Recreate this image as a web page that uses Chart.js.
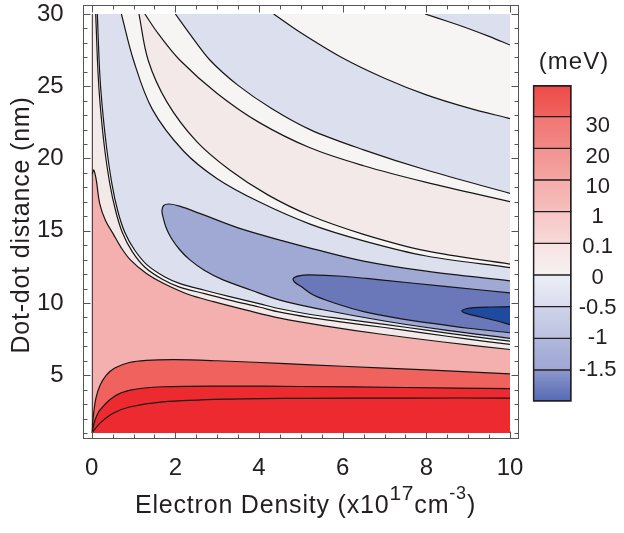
<!DOCTYPE html>
<html>
<head>
<meta charset="utf-8">
<script src="https://cdn.jsdelivr.net/npm/chart.js@4.4.0/dist/chart.umd.min.js"></script>
<style>
  html, body { margin: 0; padding: 0; background: #fff; }
  #wrap { position: relative; width: 624px; height: 533px; }
  #main { position: absolute; left: 0; top: 0; }
  #bar { position: absolute; left: 520px; top: 0; }
</style>
</head>
<body>
<div id="wrap">
  <canvas id="main" width="624" height="533"></canvas>
  <canvas id="bar" width="104" height="533"></canvas>
</div>
<script>
const FONT = "'Liberation Sans', Arial, Helvetica, sans-serif";
const INK = "#231f20";

// axes
const xTicks = [0, 2, 4, 6, 8, 10];
const yTicks = [5, 10, 15, 20, 25, 30];
const xMinor = [0, 0.5, 1, 1.5, 2, 2.5, 3, 3.5, 4, 4.5, 5, 5.5, 6, 6.5, 7, 7.5, 8, 8.5, 9, 9.5, 10];
const yMinor = [1, 2, 3, 4, 5, 6, 7, 8, 9, 10, 11, 12, 13, 14, 15, 16, 17, 18, 19, 20,
                21, 22, 23, 24, 25, 26, 27, 28, 29, 30];
const frameX = [-0.2, 10.19];
const frameY = [0.65, 30.62];

// contour lines [density, distance]
const r3 = [[0, 1.0], [0.2, 1.68], [0.5, 2.35], [0.9, 2.8], [1.7, 3.15], [3.3, 3.35], [5, 3.4], [7.5, 3.42], [10, 3.42]];
const r2 = [[0, 1.0], [0.08, 1.9], [0.2, 2.6], [0.52, 3.5], [0.92, 3.97], [1.7, 4.2], [3.3, 4.25], [5, 4.22], [7.5, 4.15], [10, 4.07]];
const r1 = [[0, 1.0], [0.04, 2.2], [0.1, 3.4], [0.2, 4.3], [0.35, 5.0], [0.55, 5.5], [0.9, 5.88], [1.3, 6.03], [2, 6.08],
            [3, 6.0], [4.5, 5.82], [6, 5.62], [8, 5.37], [10, 5.09]];
const pLine = [[0.01, 18.9], [0.05, 19.2], [0.11, 18.5], [0.19, 16.9], [0.33, 15.7], [0.52, 14.75], [0.7, 13.85], [0.92, 13.0],
               [1.3, 12.05], [1.71, 11.36], [2.3, 10.6], [2.91, 10.09], [3.7, 9.5], [4.5, 8.95], [5.6, 8.4], [6.89, 7.85],
               [8.4, 7.3], [10, 6.78]];
const q1 = [[0.096, 30], [0.15, 26], [0.2, 23.8], [0.3, 20.9], [0.43, 18.3], [0.57, 16.4], [0.73, 14.9], [0.97, 13.55],
            [1.28, 12.45], [1.7, 11.62], [2.1, 11.1], [2.7, 10.65], [3.3, 10.2], [4.0, 9.72], [4.5, 9.36], [5.2, 9.0],
            [6, 8.68], [7, 8.3], [8, 7.9], [9, 7.5], [10, 7.13]];
const q2 = [[0.134, 30], [0.19, 26], [0.245, 23.8], [0.35, 20.9], [0.48, 18.3], [0.62, 16.4], [0.79, 14.9], [1.03, 13.65],
            [1.33, 12.62], [1.74, 11.82], [2.13, 11.32], [2.7, 10.88], [3.3, 10.44], [4.0, 9.95], [4.5, 9.6], [5.2, 9.22],
            [6, 8.9], [7, 8.52], [8, 8.12], [9, 7.72], [10, 7.36]];
const m1 = [[10, 11.53], [8, 12.2], [6.5, 12.9], [5.22, 13.8], [4.57, 14.3], [3.5, 15.2], [2.58, 16.2], [2.1, 16.7],
            [1.85, 16.85], [1.72, 16.75], [1.68, 16.4], [1.7, 16.0], [1.78, 15.2], [1.9, 14.5], [2.1, 13.7], [2.34, 13.0],
            [2.7, 12.25], [3.14, 11.6], [3.8, 10.9], [4.5, 10.2], [5.5, 9.55], [7, 8.75], [8.5, 8.1], [10, 7.55]];
const m2 = [[10, 10.7], [8.5, 11.13], [6.9, 11.6], [6, 11.85], [5.2, 11.95], [4.95, 11.88], [4.82, 11.7], [4.85, 11.45],
            [5.0, 11.15], [5.3, 10.55], [5.8, 10.0], [6.5, 9.4], [7.3, 8.95], [8.1, 8.6], [9, 8.25], [10, 7.94]];
const k = [[10, 9.74], [9.5, 9.72], [9.15, 9.68], [8.95, 9.6], [8.85, 9.45], [8.95, 9.28], [9.3, 9.03], [9.7, 8.75], [10, 8.5]];
const f = [[0.71, 30], [1.0, 26.8], [1.45, 23.4], [2.2, 20.5], [3.0, 18.6], [4.0, 17.0], [5.22, 15.46], [6.5, 14.3],
           [8, 13.25], [10, 12.45]];
const e = [[1.13, 30], [1.35, 26.8], [1.8, 23.9], [2.5, 21.2], [3.3, 19.2], [4.2, 17.5], [5.22, 16.05], [6.5, 14.75],
           [8, 13.6], [10, 12.69]];
const dc = [[1.27, 30], [1.6, 28.6], [2.11, 26.8], [3, 24.5], [4, 22.5], [5.22, 20.74], [6.5, 19.5], [8, 18.35], [10, 17.01]];
const c = [[2.0, 30], [2.4, 28.4], [2.83, 26.8], [3.5, 25.06], [4.3, 23.46], [5.22, 22.0], [6.5, 20.6], [8, 19.2], [10, 17.59]];
const b = [[4.35, 30], [5, 28.7], [6, 26.95], [7, 25.55], [8, 24.4], [9, 23.5], [10, 22.76]];
const a = [[7.97, 30], [8.5, 29.5], [9, 29.0], [9.5, 28.45], [10, 27.85]];
const edge = [[0.01, 30], [0.01, 1]];

// level colours in the map
const C = {
  gt30: "#ed2a2f", c20_30: "#ed2a2f", c10_20: "#f0625e", c1_10: "#f4b0ae", c01_1: "#f3e9e8",
  c0_01: "#f7f4f4", m05_0: "#dcdfee", m1_m05: "#a0a8d4", m15_m1: "#6a77b9", lt_m15: "#1f4a9f"
};

// colour bar
const cbLabels = ["-1.5", "-1", "-0.5", "0", "0.1", "1", "10", "20", "30"];
const cbTickPos = [1.0, 2.0, 2.95, 3.9, 4.88, 5.84, 6.79, 7.74, 8.71];
const cbTop = ["#8d98cc", "#b1b8dc", "#cfd4ea", "#eceef6", "#f8e2e2", "#f6c6c5", "#f4adab", "#f29390", "#f07673", "#ee4a48"];
const cbBottom = ["#5469b4", "#9ea6d3", "#bcc2e0", "#d9dcee", "#f6f1f1", "#f8d9d8", "#f6bfbd", "#f4a5a3", "#f28986", "#f0635f"];

// paint order: lowest level first
const layers = [
  [r3, "start", C.gt30, false],
  [r3, "end", C.c20_30, true],
  [r2, "end", C.c10_20, true],
  [r1, "end", C.c1_10, true],
  [pLine, "end", C.c01_1, true],
  [q1, "end", C.c0_01, true],
  [q2, "end", C.m05_0, true],
  [m1, "shape", C.m1_m05, true],
  [m2, "shape", C.m15_m1, true],
  [k, "shape", C.lt_m15, true],
  [f, "end", C.c0_01, true],
  [e, "end", C.c01_1, true],
  [dc, "end", C.c0_01, true],
  [c, "end", C.m05_0, true],
  [b, "end", C.c0_01, true],
  [a, "end", C.m05_0, true],
  [edge, false, "rgba(0,0,0,0)", true]
];

const datasets = layers.map((L, i) => ({
  data: L[0].map(p => ({ x: p[0], y: p[1] })),
  fill: L[1],
  backgroundColor: L[2],
  borderColor: L[3] ? "#161616" : "rgba(0,0,0,0)",
  borderWidth: 1.2,
  showLine: true,
  pointRadius: 0,
  pointHoverRadius: 0,
  tension: L[0] === edge ? 0 : 0.35,
  order: layers.length - i
}));

function drawParts(ctx, parts, cx) {
  let total = 0;
  parts.forEach(p => { ctx.font = p.size + "px " + FONT; p.w = ctx.measureText(p.t).width; total += p.w; });
  let x = cx - total / 2;
  parts.forEach(p => {
    ctx.font = p.size + "px " + FONT;
    ctx.fillText(p.t, x, p.base);
    x += p.w;
  });
}

const framePlugin = {
  id: "frame",
  afterDraw(chart) {
    const { ctx, scales: { x, y } } = chart;
    const l = Math.round(x.getPixelForValue(frameX[0])) + 0.5;
    const r = Math.round(x.getPixelForValue(frameX[1])) + 0.5;
    const t = Math.round(y.getPixelForValue(frameY[1])) + 0.5;
    const bt = Math.round(y.getPixelForValue(frameY[0])) + 0.5;
    ctx.save();
    ctx.strokeStyle = "#555";
    ctx.lineWidth = 1;
    ctx.strokeRect(l, t, r - l, bt - t);
    ctx.beginPath();
    xMinor.forEach(v => {
      const px = Math.round(x.getPixelForValue(v)) + 0.5;
      const len = xTicks.includes(v) ? 7 : 4;
      ctx.moveTo(px, bt); ctx.lineTo(px, bt - len);
      ctx.moveTo(px, t); ctx.lineTo(px, t + len);
    });
    yMinor.forEach(v => {
      const py = Math.round(y.getPixelForValue(v)) + 0.5;
      const len = yTicks.includes(v) ? 7 : 4;
      ctx.moveTo(l, py); ctx.lineTo(l + len, py);
      ctx.moveTo(r, py); ctx.lineTo(r - len, py);
    });
    ctx.stroke();

    ctx.fillStyle = INK;
    ctx.letterSpacing = "0.8px";
    ctx.textAlign = "left";
    ctx.textBaseline = "alphabetic";
    drawParts(ctx, [
      { t: "Electron Density (x10", size: 25, base: 513 },
      { t: "17", size: 21, base: 500 },
      { t: "cm", size: 25, base: 513 },
      { t: "-3", size: 18, base: 499 },
      { t: ")", size: 25, base: 513 }
    ], 305.5);

    ctx.translate(28.5, 225);
    ctx.rotate(-Math.PI / 2);
    ctx.textAlign = "center";
    ctx.font = "25px " + FONT;
    ctx.fillText("Dot-dot distance (nm)", 0, 0);
    ctx.restore();
  }
};

new Chart(document.getElementById("main"), {
  type: "scatter",
  data: { datasets },
  options: {
    responsive: false,
    animation: false,
    devicePixelRatio: 1,
    events: [],
    layout: { padding: { top: 14, right: 114, left: 0, bottom: 0 } },
    plugins: { legend: { display: false }, tooltip: { enabled: false } },
    scales: {
      x: {
        type: "linear", min: 0, max: 10,
        grid: { display: false, drawTicks: false },
        border: { display: false },
        afterFit: s => { s.height = 100; s.paddingLeft = 0; s.paddingRight = 0; },
        afterBuildTicks: s => { s.ticks = xTicks.map(v => ({ value: v })); },
        ticks: { padding: 21, color: INK, font: { family: FONT, size: 24 }, maxRotation: 0, autoSkip: false }
      },
      y: {
        type: "linear", min: 1, max: 30,
        grid: { display: false, drawTicks: false },
        border: { display: false },
        afterFit: s => { s.width = 91.7; s.paddingTop = 0; s.paddingBottom = 0; },
        afterBuildTicks: s => { s.ticks = yTicks.map(v => ({ value: v })); },
        ticks: { padding: 28, color: INK, font: { family: FONT, size: 24 }, autoSkip: false }
      }
    }
  },
  plugins: [framePlugin]
});

// colour bar
const cbTitle = {
  id: "cbTitle",
  afterDraw(chart) {
    const ctx = chart.ctx;
    ctx.save();
    ctx.fillStyle = INK;
    ctx.letterSpacing = "1px";
    ctx.font = "24px " + FONT;
    ctx.textAlign = "center";
    ctx.textBaseline = "middle";
    ctx.fillText("(meV)", 54, 62);
    ctx.restore();
  }
};

function binFill(ctx) {
  const ch = ctx.chart;
  const i = ctx.datasetIndex;
  const ys = ch.scales.y;
  if (!ch.chartArea || !ys) return cbTop[i];
  const g = ch.ctx.createLinearGradient(0, ys.getPixelForValue(i + 1), 0, ys.getPixelForValue(i));
  g.addColorStop(0, cbTop[i]);
  g.addColorStop(1, cbBottom[i]);
  return g;
}

new Chart(document.getElementById("bar"), {
  type: "bar",
  data: {
    labels: [""],
    datasets: cbTop.map((col, i) => ({
      data: [1],
      backgroundColor: binFill,
      borderColor: INK,
      borderWidth: { left: 2, right: 2, top: i === cbTop.length - 1 ? 2 : 1, bottom: i === 0 ? 2 : 1 },
      borderSkipped: false,
      barPercentage: 1,
      categoryPercentage: 1,
      stack: "cb"
    }))
  },
  options: {
    responsive: false,
    animation: false,
    devicePixelRatio: 1,
    events: [],
    layout: { padding: { left: 12.7, top: 85, bottom: 131.3, right: 0 } },
    plugins: { legend: { display: false }, tooltip: { enabled: false } },
    scales: {
      x: { stacked: true, display: false },
      y: {
        stacked: true, position: "right", min: 0, max: 10,
        grid: { display: false, drawTicks: false },
        border: { display: false },
        afterFit: s => { s.width = 52.3; s.paddingTop = 0; s.paddingBottom = 0; },
        afterBuildTicks: s => { s.ticks = cbTickPos.map(v => ({ value: v })); },
        ticks: {
          autoSkip: false, padding: 7, crossAlign: "center", color: INK,
          font: { family: FONT, size: 22 },
          callback: (v, i) => cbLabels[i]
        }
      }
    }
  },
  plugins: [cbTitle]
});
</script>
</body>
</html>
